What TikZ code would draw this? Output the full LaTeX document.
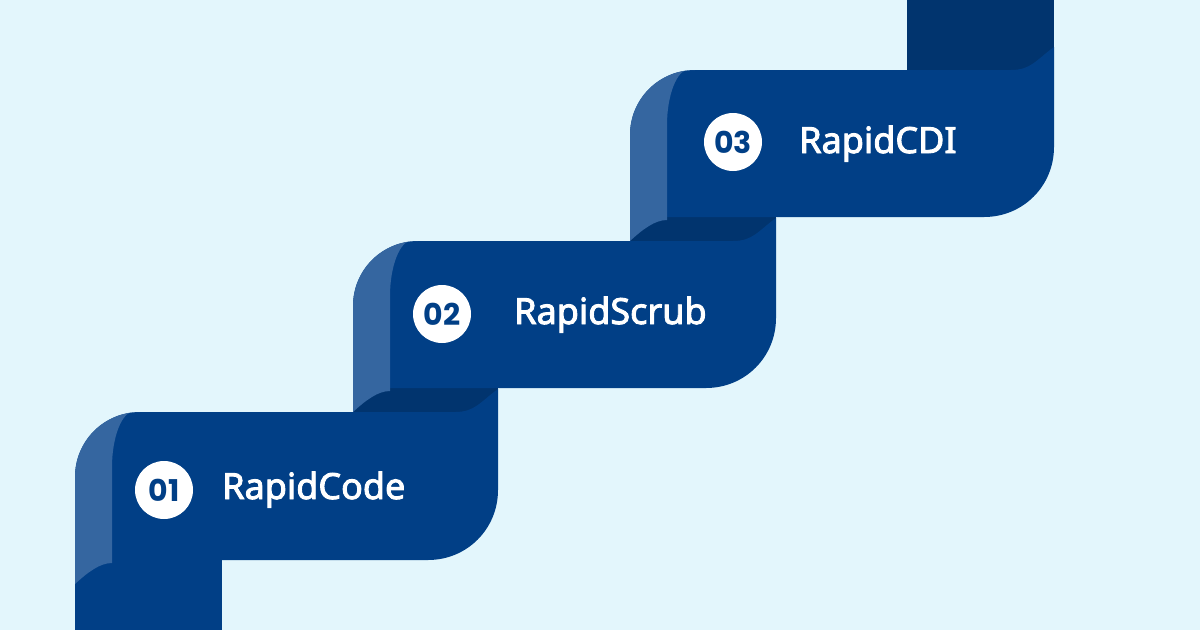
\documentclass[tikz,border=0pt]{standalone}
\usepackage{fontspec}
\newfontfamily\labfont{Noto Sans}[FakeBold=2.5]
\newfontfamily\numfont{Poppins}
\definecolor{bg}{HTML}{E3F6FC}
\definecolor{mid}{HTML}{013F86}
\definecolor{lite}{HTML}{3566A0}
\definecolor{deep}{HTML}{01346E}
% #1=L #2=R #3=T #4=B
\newcommand\bandmain[4]{%
  \fill[mid] (#1,#4) -- (#1,{#3+65}) .. controls (#1,{#3+29}) and ({#1+29},#3) .. ({#1+65},#3)
    -- ({#2-43},#3) .. controls ({#2-23},#3) and ({#2-18},{#3-10}) .. (#2,{#3-23})
    -- (#2,{#4-70}) .. controls (#2,{#4-31}) and ({#2-31},#4) .. ({#2-70},#4) -- cycle;
  \fill[lite] ({#1+58},#3) .. controls ({#1+47},#3) and ({#1+37},{#3+25}) .. ({#1+37},{#3+55})
    -- ({#1+37},{#4+3}) .. controls ({#1+25},{#4+3}) and ({#1+13},{#4+12}) .. (#1,{#4+24})
    -- (#1,{#3+65}) .. controls (#1,{#3+29}) and ({#1+29},#3) .. ({#1+65},#3) -- cycle;
}
\begin{document}
\begin{tikzpicture}[x=1pt,y=-1pt,
  lab/.style={text=white,inner sep=0pt,font=\labfont\fontsize{36}{40}\selectfont},
  num/.style={circle,fill=white,minimum size=58pt,inner sep=0pt,text=mid,font=\numfont\bfseries\fontsize{30}{33}\selectfont}]
\useasboundingbox (0,0) rectangle (1200,630);
\fill[bg] (0,0) rectangle (1200,630);
% back folds
\fill[deep] (907,0) rectangle (1054,72);
\fill[deep] (353,387) rectangle (498,414);
\fill[deep] (630,216) rectangle (776,243);
% bottom column
\fill[mid] (75,555) rectangle (222,630);
% bands
\bandmain{75}{498}{412}{560}
\bandmain{353}{776}{241}{388}
\bandmain{630}{1054}{70}{217}
% labels
\node[num] (n1) at (164,490) {01};
\node[lab,anchor=base west] (t1) at (222,499) {RapidCode};
\node[num] (n2) at (442,314) {02};
\node[lab,anchor=base west] (t2) at (514,324) {RapidScrub};
\node[num] (n3) at (733,142) {03};
\node[lab,anchor=base west] (t3) at (799,153) {RapidCDI};
\end{tikzpicture}
\end{document}
